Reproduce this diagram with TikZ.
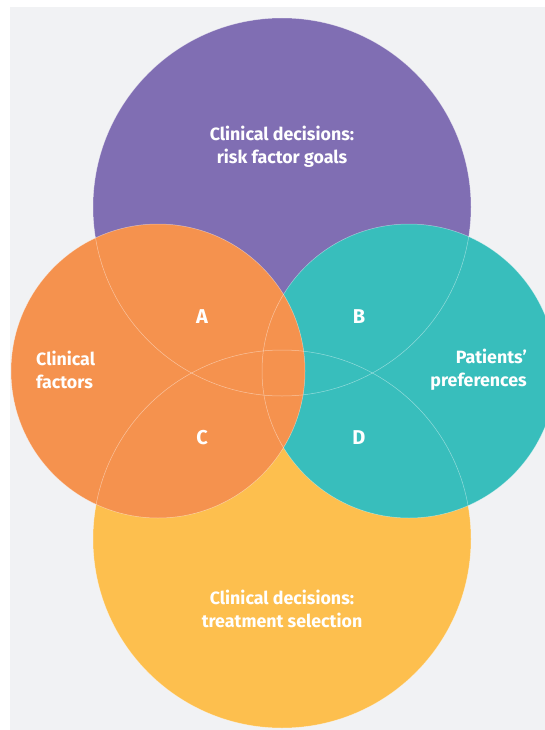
\documentclass[tikz,border=0pt]{standalone}
\usepackage{fontspec}
\setmainfont{Fira Sans}

\definecolor{bggrey}{HTML}{F1F2F4}
\definecolor{goalpurple}{HTML}{806EB3}
\definecolor{factororange}{HTML}{F5924E}
\definecolor{prefteal}{HTML}{38BEBC}
\definecolor{treatyellow}{HTML}{FDBF4E}

\begin{document}
\begin{tikzpicture}[x=1pt,y=-1pt,
    label/.style={text=white,font=\fontsize{17.8}{22.5}\selectfont\bfseries,inner sep=0pt},
    region/.style={text=white,font=\fontsize{20}{20}\selectfont\bfseries,inner sep=0pt},
    rim/.style={draw=white,draw opacity=0.45,line width=0.5pt}]
    \useasboundingbox (0,0) rectangle (545,730);
    \fill[bggrey] (10,7) rectangle (545,730);

    % circle centres
    \coordinate (goals) at (282,207);
    \coordinate (treat) at (282,539);
    \coordinate (factors) at (158,371);
    \coordinate (prefs) at (409,371);

    % fills, back to front
    \begin{scope}
        \clip (10,7) rectangle (545,730);
        \fill[goalpurple] (goals) circle (189);
        \fill[treatyellow] (treat) circle (189);
        \fill[prefteal] (prefs) circle (147);
        \fill[factororange] (factors) circle (147);
        % thin outlines on top
        \draw[rim] (goals) circle (189);
        \draw[rim] (treat) circle (189);
        \draw[rim] (prefs) circle (147);
        \draw[rim] (factors) circle (147);
    \end{scope}

    \node[label,align=center] (goaltext) at (282,147) {Clinical decisions:\\risk factor goals};
    \node[label,align=center] (treattext) at (282,609) {Clinical decisions:\\treatment selection};
    \node[label,align=left,anchor=west] (factortext) at (36,370) {Clinical\\factors};
    \node[label,align=right,anchor=east] (preftext) at (527,370) {Patients{\char"27}\\preferences};

    \node[region] (A) at (202,317) {A};
    \node[region] (B) at (359,317) {B};
    \node[region] (C) at (202,438) {C};
    \node[region] (D) at (359,438) {D};
\end{tikzpicture}
\end{document}
